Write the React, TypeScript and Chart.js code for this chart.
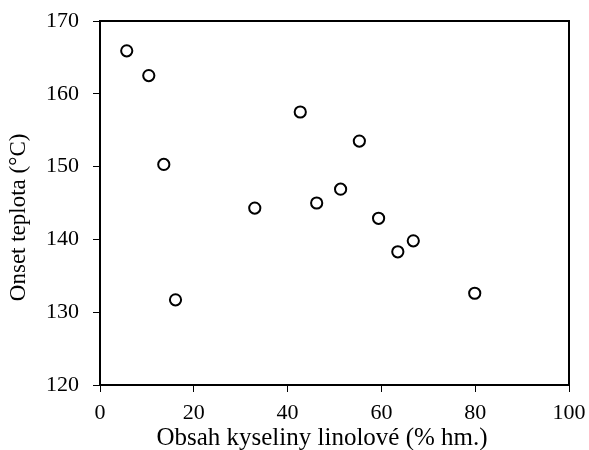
import React, { useEffect, useRef } from "react";
import { Chart, registerables } from "chart.js";

Chart.register(...registerables);

const linoleicContent: number[] = [5.7, 10.4, 13.6, 16.1, 33.0, 42.7, 46.2, 51.3, 55.3, 59.4, 63.5, 66.8, 79.9];
const onsetTemperature: number[] = [165.9, 162.5, 150.3, 131.7, 144.3, 157.5, 145.0, 146.9, 153.5, 142.9, 138.3, 139.8, 132.6];
const xTitle = "Obsah kyseliny linolové (% hm.)";
const yTitle = "Onset teplota (°C)";

const framePlugin = {
  id: "frame",
  afterDraw(chart: any) {
    const { ctx, chartArea } = chart;
    ctx.save();
    ctx.strokeStyle = "#000";
    ctx.lineWidth = 2;
    ctx.strokeRect(chartArea.left, chartArea.top, chartArea.right - chartArea.left, chartArea.bottom - chartArea.top);
    ctx.restore();
  },
};

export default function App() {
  const ref = useRef<HTMLCanvasElement | null>(null);
  useEffect(() => {
    if (!ref.current) return;
    const data = linoleicContent.map((x, i) => ({ x, y: onsetTemperature[i] }));
    const font = "'Liberation Serif', 'Times New Roman', serif";
    const chart = new Chart(ref.current, {
      type: "scatter",
      data: {
        datasets: [
          {
            data,
            pointRadius: 5.6,
            pointBorderWidth: 2,
            pointBorderColor: "#000",
            pointBackgroundColor: "#fff",
          },
        ],
      },
      options: {
        animation: false,
        responsive: true,
        maintainAspectRatio: false,
        layout: { padding: { top: 21, right: 20, left: 0, bottom: 0 } },
        plugins: { legend: { display: false }, tooltip: { enabled: false } },
        scales: {
          x: {
            type: "linear",
            min: 0,
            max: 100,
            afterFit: (s: any) => { s.height = 65; s.paddingLeft = 0; s.paddingRight = 0; },
            border: { display: false },
            grid: { display: true, drawOnChartArea: false, drawTicks: true, tickLength: 7, color: "#000", tickColor: "#000", lineWidth: 1 },
            ticks: { stepSize: 20, color: "#000", padding: 8, font: { family: font, size: 22, lineHeight: 1.2 } },
            title: { display: true, text: xTitle + "\u00a0\u00a0\u00a0\u00a0", color: "#000", padding: { top: 0, bottom: -1 }, font: { family: font, size: 25, lineHeight: 1 } },
          },
          y: {
            type: "linear",
            min: 120,
            max: 170,
            afterFit: (s: any) => { s.width = 100; s.paddingTop = 0; s.paddingBottom = 0; },
            border: { display: false },
            grid: { display: true, drawOnChartArea: false, drawTicks: true, tickLength: 7, color: "#000", tickColor: "#000", lineWidth: 1 },
            ticks: { stepSize: 10, color: "#000", padding: 14, font: { family: font, size: 22, lineHeight: 1.2 } },
            title: { display: true, text: yTitle + "\u00a0\u00a0\u00a0\u00a0\u00a0", color: "#000", padding: { top: 7, bottom: 0 }, font: { family: font, size: 23, lineHeight: 1 } },
          },
        },
      },
      plugins: [framePlugin],
    });
    return () => chart.destroy();
  }, []);
  return (
    <div style={{ position: "fixed", left: 0, top: 0, width: 589, height: 450, background: "#fff" }}>
      <canvas ref={ref} />
    </div>
  );
}
